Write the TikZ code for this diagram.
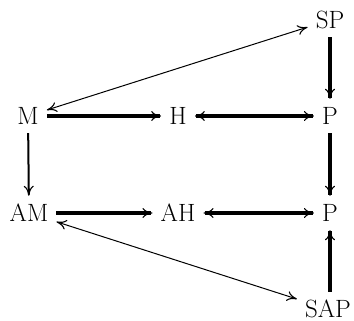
\documentclass[tikz,border=0pt]{standalone}
\usepackage{fontspec}
\setmainfont{Latin Modern Roman}
\usetikzlibrary{arrows.meta}
\begin{document}
\begin{tikzpicture}[x=1pt,y=-1pt,
  lbl/.style={inner xsep=8pt,inner ysep=8.5pt,text height=17pt,text depth=0pt,
    font=\fontsize{25}{30}\selectfont},
  tip/.tip={Computer Modern Rightarrow[length=10pt,width=10pt,line width=1.1pt]},
  thickarr/.style={line width=3.6pt,-{tip}},
  thickboth/.style={line width=3.6pt,{tip}-{tip}},
  midarr/.style={line width=2pt,-{tip}},
  thinboth/.style={line width=1pt,{tip}-{tip}}]
\useasboundingbox (0,0) rectangle (354,321);
\node[lbl] (M) at (28,116) {M};
\node[lbl] (H) at (178,116) {H};
\node[lbl] (P1) at (330,116) {P};
\node[lbl] (SP) at (330,20) {SP};
\node[lbl] (AM) at (29,213) {AM};
\node[lbl] (AH) at (178,213) {AH};
\node[lbl] (P2) at (330,213) {P};
\node[lbl] (SAP) at (328,309) {SAP};
\draw[thickarr] (M) -- (H);
\draw[thickboth] (H) -- (P1);
\draw[thickarr] (SP) -- (P1);
\draw[thickarr] (P1) -- (P2);
\draw[midarr] (M) -- (AM);
\draw[thickarr] (AM) -- (AH);
\draw[thickboth] (AH) -- (P2);
\draw[thickarr] (SAP.north -| P2.south) -- (P2.south);
\draw[thinboth] (M) -- (SP);
\draw[thinboth] (AM) -- (SAP);
\end{tikzpicture}
\end{document}
